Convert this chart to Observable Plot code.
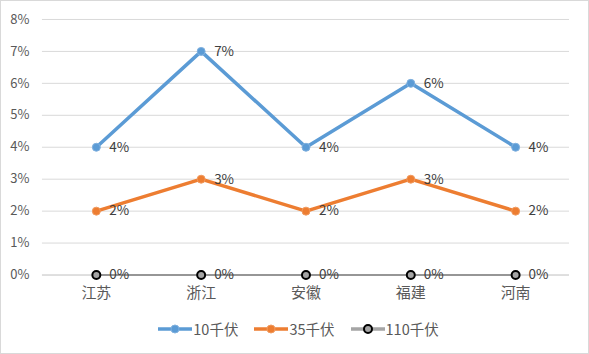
<!DOCTYPE html>
<html><head><meta charset="utf-8">
<script src="https://cdn.jsdelivr.net/npm/d3@7"></script>
<script src="https://cdn.jsdelivr.net/npm/@observablehq/plot@0.6"></script>
<style>
body{margin:0;background:#fff;}
#wrap{width:589px;height:354px;box-sizing:border-box;border:1px solid #d9d9d9;position:relative;overflow:hidden;font-family:"Noto Sans CJK SC","DejaVu Sans",sans-serif;}
#chart{position:absolute;left:-1px;top:-1px;}
#legend{position:absolute;left:0;top:317px;width:100%;display:flex;justify-content:center;gap:16px;font-size:14.5px;color:#595959;padding-left:8px;box-sizing:border-box;}
#legend .item{display:flex;align-items:center;gap:1px;}
</style></head>
<body><div id="wrap"><div id="chart"></div><div id="legend"></div></div>
<script>
const categories = ["江苏","浙江","安徽","福建","河南"];
const seriesNames = ["10千伏","35千伏","110千伏"];
const values10 = [0.04,0.07,0.04,0.06,0.04];
const values35 = [0.02,0.03,0.02,0.03,0.02];
const values110 = [0,0,0,0,0];
const yTicks = [0,0.01,0.02,0.03,0.04,0.05,0.06,0.07,0.08];
const colors = ["#5B9BD5","#ED7D31","#A5A5A5"];
const markerStroke = ["#7FB0DE","#F09A5E","#000000"];

const allValues = [values10, values35, values110];
const data = [];
seriesNames.forEach((s,i)=>categories.forEach((c,j)=>data.push({series:s, cat:c, v:allValues[i][j], si:i})));
const fmt = d3.format(".0%");

const marks = [
  Plot.gridY(yTicks.filter(t=>t>0), {stroke:"#d9d9d9", strokeOpacity:1, strokeWidth:1}),
  Plot.ruleY([0], {stroke:"#bfbfbf", strokeWidth:1}),
  Plot.axisY({ticks:yTicks, tickFormat:fmt, tickSize:0, tickPadding:13, fontSize:13, fill:"#595959", label:null}),
  Plot.axisX({tickSize:0, tickPadding:12, fontSize:15, fill:"#595959", label:null})
];
[2,1,0].forEach(i=>{
  const d = data.filter(r=>r.si===i);
  marks.push(Plot.line(d, {x:"cat", y:"v", stroke:i===2?"#969696":colors[i], strokeWidth:i===2?2:3.5, curve:"linear"}));
  marks.push(Plot.dot(d, {x:"cat", y:"v", r:i===2?4:4, fill:colors[i], stroke:markerStroke[i], strokeWidth:i===2?2:1}));
  marks.push(Plot.text(d, {x:"cat", y:"v", text:r=>fmt(r.v), dx:13, textAnchor:"start", fontSize:13.5, fill:"#404040"}));
});

const chart = Plot.plot({
  width:589, height:306,
  marginLeft:42, marginRight:19, marginTop:19, marginBottom:31,
  style:{fontFamily:"'Noto Sans CJK SC','DejaVu Sans',sans-serif", background:"transparent", overflow:"visible"},
  x:{type:"point", domain:categories, padding:0.5},
  y:{domain:[0,0.08]},
  marks
});
document.getElementById("chart").appendChild(chart);

const legend = d3.select("#legend");
seriesNames.forEach((s,i)=>{
  const it = legend.append("div").attr("class","item");
  const sv = it.append("svg").attr("width",34).attr("height",14);
  sv.append("line").attr("x1",0).attr("x2",34).attr("y1",7).attr("y2",7).attr("stroke",colors[i]).attr("stroke-width",3.5);
  sv.append("circle").attr("cx",17).attr("cy",7).attr("r",4).attr("fill",colors[i]).attr("stroke",markerStroke[i]).attr("stroke-width",i===2?2:1);
  it.append("span").text(s);
});
</script></body></html>
